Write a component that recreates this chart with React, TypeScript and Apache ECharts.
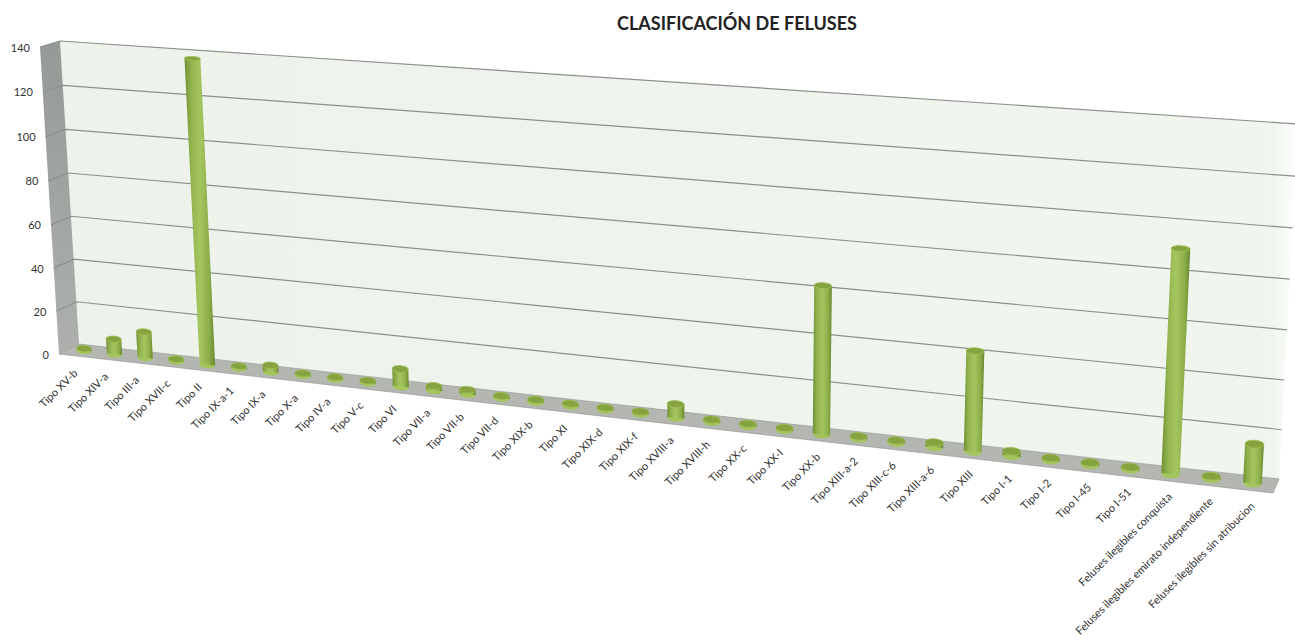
import React, { useEffect, useRef } from "react";
import * as echarts from "echarts";

const titleText = "CLASIFICACIÓN DE FELUSES";
const categories = [
  "Tipo XV-b", "Tipo XIV-a", "Tipo III-a", "Tipo XVII-c", "Tipo II", "Tipo IX-a-1", "Tipo IX-a", "Tipo X-a",
  "Tipo IV-a", "Tipo V-c", "Tipo VI", "Tipo VII-a", "Tipo VII-b", "Tipo VII-d", "Tipo XIX-b", "Tipo XI",
  "Tipo XIX-d", "Tipo XIX-f", "Tipo XVIII-a", "Tipo XVIII-h", "Tipo XX-c", "Tipo XX-I", "Tipo XX-b",
  "Tipo XIII-a-2", "Tipo XIII-c-6", "Tipo XIII-a-6", "Tipo XIII", "Tipo I-1", "Tipo I-2", "Tipo I-45", "Tipo I-51",
  "Feluses ilegibles conquista", "Feluses ilegibles emirato independiente", "Feluses ilegibles sin atribucion",
];
const values = [1, 7, 12, 1, 138, 1, 3, 1, 1, 1, 8, 2, 2, 1, 1, 1, 1, 1, 6, 1, 1, 1, 63, 1, 1, 2, 42, 2, 1, 1, 1, 91, 1, 16];
const yTicks = [0, 20, 40, 60, 80, 100, 120, 140];

type Pt = [number, number];
const makeQuad = (p00: Pt, p10: Pt, p11: Pt, p01: Pt) => {
  const [x0, y0] = p00, [x1, y1] = p10, [x2, y2] = p11, [x3, y3] = p01;
  const dx1 = x1 - x2, dx2 = x3 - x2, sx = x0 - x1 + x2 - x3;
  const dy1 = y1 - y2, dy2 = y3 - y2, sy = y0 - y1 + y2 - y3;
  const den = dx1 * dy2 - dx2 * dy1;
  const g = (sx * dy2 - dx2 * sy) / den, h = (dx1 * sy - sx * dy1) / den;
  const a = x1 - x0 + g * x1, b = x3 - x0 + h * x3, d = y1 - y0 + g * y1, e = y3 - y0 + h * y3;
  return (s: number, t: number): Pt => {
    const w = g * s + h * t + 1;
    return [(a * s + b * t + x0) / w, (d * s + e * t + y0) / w];
  };
};
const back = makeQuad([79, 344], [1279, 479], [1298, 124], [60, 41]);
const front = makeQuad([59, 354], [1273, 493], [1294, 137], [40, 47]);
const project = (s: number, t: number, depth: number): Pt => {
  const b = back(s, t), f = front(s, t);
  return [b[0] + (f[0] - b[0]) * depth, b[1] + (f[1] - b[1]) * depth];
};
const unit = (params: any, api: any, x: number, y: number): Pt => {
  const c = api.coord([x, y]);
  const r = params.coordSys;
  return [(c[0] - r.x) / r.width, (r.y + r.height - c[1]) / r.height];
};
const pts = (list: Pt[]) => ({ points: list });
const FONT = '11px Lato, "Open Sans", sans-serif';

const renderWalls = () => ({
  type: "group",
  children: [
    {
      type: "polygon",
      shape: pts([project(0, 0, 0), project(1, 0, 0), project(1, 1, 0), project(0, 1, 0)]),
      style: {
        fill: {
          type: "linear", x: 0, y: 0, x2: 1, y2: 0,
          colorStops: [
            { offset: 0, color: "#edf3eb" },
            { offset: 0.98, color: "#f0f6ee" },
            { offset: 1, color: "#ffffff" },
          ],
        },
      },
      silent: true,
    },
    {
      type: "polygon",
      shape: pts([project(0, 0, 0), project(0, 1, 0), project(0, 1, 1), project(0, 0, 1)]),
      style: {
        fill: {
          type: "linear", x: 0, y: 0, x2: 0, y2: 1,
          colorStops: [{ offset: 0, color: "#959a97" }, { offset: 1, color: "#adb0ad" }],
        },
      },
      silent: true,
    },
    {
      type: "polygon",
      shape: pts([project(0, 0, 0), project(1, 0, 0), project(1, 0, 1), project(0, 0, 1)]),
      style: { fill: "#b3b6b1", stroke: "#8f928d", lineWidth: 0.6 },
      silent: true,
    },
  ],
});

const renderGridLine = (params: any, api: any) => {
  const v = api.value(0);
  const [, t] = unit(params, api, 0, v);
  const a = project(0, t, 1), b = project(0, t, 0), c = project(1, t, 0);
  const text = String(v);
  return {
    type: "group",
    children: [
      ...(v > 0
        ? [{ type: "polyline", shape: pts([a, b, c]), style: { stroke: "#8b908c", lineWidth: 1.2, fill: "none" }, silent: true }]
        : []),
      {
        type: "text", x: a[0] - 10, y: a[1],
        style: { text, x: 0, y: 0, align: "right", verticalAlign: "middle", fill: "#333333", font: FONT },
        silent: true,
      },
    ],
  };
};

const bodyFill = {
  type: "linear", x: 0, y: 0, x2: 1, y2: 0,
  colorStops: [
    { offset: 0, color: "#6f8f34" },
    { offset: 0.2, color: "#90b04c" },
    { offset: 0.5, color: "#a5c65f" },
    { offset: 0.8, color: "#8eae4a" },
    { offset: 1, color: "#678830" },
  ],
};

const renderBar = (params: any, api: any) => {
  const i = api.value(0), v = api.value(1);
  const [s0, t] = unit(params, api, i, v);
  const s = s0 * 0.998;
  const half = (0.25 - 0.025 * s) / categories.length;
  const D = 0.5;
  const bl = project(s - half, 0, D), br = project(s + half, 0, D);
  const tl = project(s - half, t, D), tr = project(s + half, t, D);
  const bc = project(s, 0, D), tc = project(s, t, D);
  const ellipse = (c: Pt, l: Pt, r: Pt, ratio: number, fill: any) => {
    const rx = Math.hypot(r[0] - l[0], r[1] - l[1]) / 2;
    return {
      type: "ellipse", x: c[0], y: c[1],
      rotation: -Math.atan2(r[1] - l[1], r[0] - l[0]) * 0.6,
      shape: { cx: 0, cy: 0, rx, ry: rx * ratio },
      style: fill,
      silent: true,
    };
  };
  return {
    type: "group",
    children: [
      ellipse(bc, bl, br, 0.45, { fill: "#a4c45e" }),
      { type: "polygon", shape: pts([bl, br, tr, tl]), style: { fill: bodyFill }, silent: true },
      ellipse(tc, tl, tr, 0.42 - 0.18 * t, { fill: "#86a33f", stroke: "#a0bf58", lineWidth: 0.8 }),
    ],
  };
};

const renderLabel = (params: any, api: any) => {
  const i = api.value(0);
  const [s] = unit(params, api, i, 0);
  const c = project(s, 0, 0.5);
  return {
    type: "text", x: c[0] - 9 + 6 * s, y: c[1] + 20, rotation: Math.PI / 4,
    style: { text: categories[i], x: 0, y: 0, align: "right", verticalAlign: "middle", fill: "#333333", font: FONT },
    silent: true,
  };
};

export default function App() {
  const ref = useRef<HTMLDivElement>(null);
  useEffect(() => {
    document.body.style.margin = "0";
    const chart = echarts.init(ref.current!, undefined, { renderer: "svg" });
    const barData = values.map((v, i) => [i, v]);
    chart.setOption({
      animation: false,
      backgroundColor: "#ffffff",
      title: {
        text: titleText, left: 612, top: 9,
        textStyle: { fontFamily: "Lato, sans-serif", fontWeight: "bold", fontSize: 18, color: "#222222" },
      },
      grid: { left: 60, top: 40, width: 1200, height: 400 },
      xAxis: { type: "category", data: categories, show: false },
      yAxis: { type: "value", min: 0, max: 140, interval: 20, show: false },
      series: [
        { type: "custom", renderItem: renderWalls, data: [[0, 0]], clip: false, z: 1, silent: true },
        { type: "custom", renderItem: renderGridLine, data: yTicks.map((v) => [v]), clip: false, z: 2, silent: true, encode: { x: [], y: 0 } },
        { type: "custom", renderItem: renderBar, data: barData, clip: false, z: 3, silent: true, encode: { x: 0, y: 1 } },
        { type: "custom", renderItem: renderLabel, data: barData, clip: false, z: 4, silent: true, encode: { x: 0, y: 1 } },
      ],
    });
    return () => chart.dispose();
  }, []);
  return <div ref={ref} style={{ width: 1295, height: 641 }} />;
}
